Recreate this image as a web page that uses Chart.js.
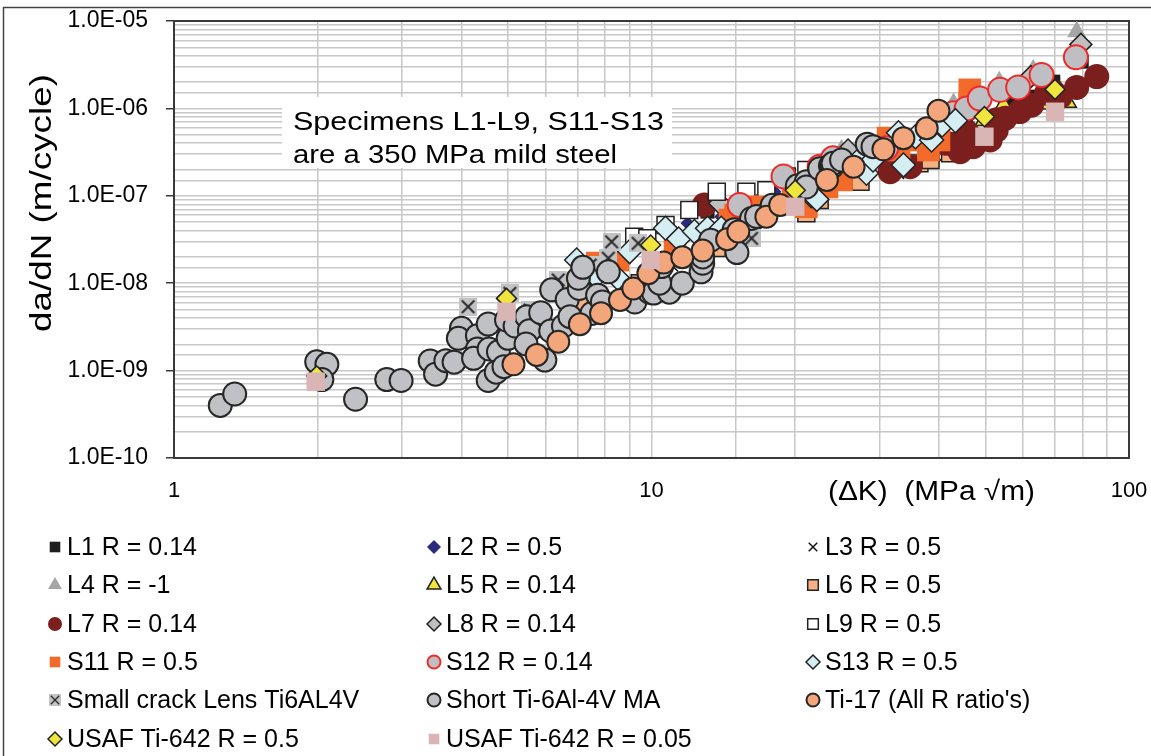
<!DOCTYPE html>
<html>
<head>
<meta charset="utf-8">
<script src="https://cdn.jsdelivr.net/npm/chart.js@4.4.1/dist/chart.umd.min.js"></script>
<style>
  body { margin: 0; background: #fff; }
  canvas { display: block; }
</style>
</head>
<body>
<canvas id="fcgChart" width="1151" height="756"></canvas>
<script>
// [deltaK (MPa sqrt m), da/dN (m/cycle)]
const L1 = [[13.1,6.6e-8],[55,1.3e-6],[56.2,1.25e-6],[59,1.3e-6],[63,1.36e-6],[69.4,2.02e-6],[79.6,3.43e-6]];
const L2 = [[11.9,4.84e-8],[14.0,5.76e-8],[16.6,8.7e-8],[18.1,1.11e-7],[32.5,1.81e-7]];
const L3 = [[11.1,1.55e-8],[33,1.77e-7],[40.9,2.8e-7]];
const L4 = [[25,3.34e-7],[42.9,1.14e-6],[53.5,2.02e-6],[63,2.75e-6],[77.7,7.55e-6]];
const L5 = [[45,4.35e-7],[49.9,7.36e-7],[54.6,1.06e-6],[65.6,1.14e-6],[74.1,1.19e-6]];
const L6 = [[7.26,5.9e-9],[9.45,1.0e-8],[13.7,2.52e-8],[21.1,6.3e-8],[22.5,8.97e-8],[26.4,1.52e-7],[27.4,1.45e-7],[36.4,2.35e-7],[38.4,2.57e-7],[42.2,3.06e-7]];
const L7 = [[12.9,7.85e-8],[31.6,1.89e-7],[34.8,2.15e-7],[41.5,3.98e-7],[43,3.9e-7],[44.3,3.2e-7],[47.2,3.65e-7],[45.7,5.4e-7],[51.2,4.35e-7],[52.7,5.6e-7],[52.8,7.4e-7],[55,7.7e-7],[59.1,9.2e-7],[62.5,1.09e-6],[67.2,1.49e-6],[69.4,1.55e-6],[71.7,1.36e-6],[77.7,1.74e-6],[85.6,2.31e-6]];
const L8 = [[13.9,8.2e-8],[25.8,3.34e-7],[46.8,9.6e-7],[62.3,2.31e-6],[79.3,5.4e-6]];
const L9 = [[9.2,3.4e-8],[9.8,3.26e-8],[10.7,4.63e-8],[12.0,6.87e-8],[13.7,1.11e-7],[15.8,1.11e-7],[17.4,1.16e-7],[19.2,1.66e-7],[21.1,1.97e-7]];
const S11 = [[6.7,1.0e-8],[7.7,1.7e-8],[8.5,1.84e-8],[11.2,3.0e-8],[14.6,5.28e-8],[15.0,6.0e-8],[16.3,7.5e-8],[19.8,9.8e-8],[21.1,7.5e-8],[23.3,1.26e-7],[25,1.52e-7],[31.3,4.58e-7],[33,3.34e-7],[35.7,4.35e-7],[38,3.34e-7],[40,4.35e-7],[46.4,1.63e-6],[46.4,1.15e-6]];
const S12 = [[15.3,7.85e-8],[18.9,1.66e-7],[22.5,2.15e-7],[24,2.69e-7],[31,3.5e-7],[42.9,8.8e-7],[45.7,1.0e-6],[48.7,1.3e-6],[53.7,1.63e-6],[58.6,1.74e-6],[65.6,2.41e-6],[77.4,3.85e-6]];
const S13 = [[6.97,1.84e-8],[7.65,1.19e-8],[8.5,1.14e-8],[9.0,2.3e-8],[10.7,4.25e-8],[11.4,3.2e-8],[12.3,3.9e-8],[13.1,4.25e-8],[14.0,4.25e-8],[16.9,5.76e-8],[21.6,1.0e-7],[22.2,9.1e-8],[25,2.57e-7],[27.4,2.69e-7],[28.2,1.81e-7],[29.1,2.57e-7],[32.9,5.27e-7],[33.7,2.25e-7],[35.7,4.74e-7],[38.6,4.35e-7],[40.6,6.45e-7],[43.3,7.24e-7]];
const lensTi = [[4.13,5.38e-9],[5.05,7.66e-9],[5.57,4.93e-9],[6.38,1.09e-8],[7.44,1.61e-8],[8.12,1.93e-8],[8.25,2.98e-8],[9.38,2.86e-8],[16.2,3.26e-8]];
const shortTi = [[1.25,4.0e-10],[1.34,5.4e-10],[1.99,1.26e-9],[2.09,1.18e-9],[2.04,7.9e-10],[2.40,4.7e-10],[2.79,7.9e-10],[2.99,7.7e-10],
  [3.44,1.29e-9],[3.53,9.1e-10],[3.71,1.3e-9],[3.86,1.25e-9],[4.0,3.05e-9],[3.94,2.34e-9],[4.32,2.51e-9],[4.55,3.41e-9],[4.32,1.77e-9],
  [4.24,1.38e-9],[4.57,1.77e-9],[4.78,1.64e-9],[4.55,7.7e-10],[4.73,9.6e-10],[4.91,1.11e-9],[5.01,2.34e-9],[4.97,3.79e-9],[5.18,3.24e-9],
  [5.48,4.14e-9],[5.55,2.86e-9],[5.46,2.02e-9],[5.86,4.6e-9],[5.98,1.32e-9],[6.18,8.4e-9],[6.15,2.84e-9],[6.54,3.24e-9],[6.66,6.5e-9],
  [6.75,4.14e-9],[7.06,8.7e-9],[7.03,1.14e-8],[7.18,1.52e-8],[7.5,4.5e-9],[7.71,7.3e-9],[7.89,6.1e-9],[8.12,1.35e-8],[9.23,6.1e-9],
  [9.9,7.9e-9],[10.1,7.7e-9],[10.9,7.9e-9],[11.6,1.0e-8],[10.4,1.0e-8],[10.5,1.55e-8],[12.7,1.35e-8],[12.8,1.69e-8],[12.8,2.0e-8],
  [13.3,3.1e-8],[15.1,2.24e-8],[14.9,4.1e-8],[16.2,5.5e-8],[16.6,5.8e-8],[17.9,7.8e-8],[20.2,1.3e-7],[21.1,1.45e-7],[21.1,1.26e-7],
  [22.5,2.04e-7],[23.7,2.2e-7],[23.9,2.16e-7],[24,2.35e-7],[25,2.57e-7],[28.3,3.9e-7],[29.1,3.65e-7]];
const ti17 = [[5.14,1.18e-9],[5.75,1.51e-9],[6.38,2.14e-9],[7.08,3.39e-9],[7.84,4.53e-9],[8.59,6.43e-9],[9.16,8.7e-9],[9.85,1.3e-8],
  [10.6,1.72e-8],[11.6,1.98e-8],[12.8,2.36e-8],[14.4,3.18e-8],[15.2,3.9e-8],[17.4,5.76e-8],[18.6,7.84e-8],[23.3,1.52e-7],[26.5,2.15e-7],
  [30.6,3.4e-7],[33.7,4.55e-7],[37.7,5.92e-7],[39.9,9.4e-7]];
const usaf05 = [[1.99,8.7e-10],[4.97,6.7e-9],[9.96,2.74e-8],[20,1.16e-7],[49.8,8.04e-7],[70,1.65e-6]];
const usaf005 = [[1.98,7.46e-10],[4.97,4.72e-9],[9.96,1.84e-8],[20,7.5e-8],[49.8,4.74e-7],[70,9.16e-7]];

const xTickLabels = ['1', '10', '100'];
const yTickLabels = ['1.0E-10', '1.0E-09', '1.0E-08', '1.0E-07', '1.0E-06', '1.0E-05'];

// gray square with an X, used for the Lens series
function crackIcon(size) {
    const c = document.createElement('canvas');
    c.width = size; c.height = size;
    const g = c.getContext('2d');
    g.fillStyle = '#c3c3c5';
    g.fillRect(0, 0, size, size);
    g.strokeStyle = '#2a2a2a';
    g.lineWidth = size > 14 ? 2 : 1.3;
    const m = size * 0.15;
    g.beginPath();
    g.moveTo(m, m); g.lineTo(size - m, size - m);
    g.moveTo(size - m, m); g.lineTo(m, size - m);
    g.stroke();
    return c;
}

const series = [
    { label: 'L1 R = 0.14', data: L1, style: 'rect', r: 10, fill: '#1e1e1e', line: '#1e1e1e', bw: 0, lr: 7.5 },
    { label: 'L2 R = 0.5', data: L2, style: 'rectRot', r: 7, fill: '#2b2b7c', line: '#2b2b7c', bw: 0, lr: 7 },
    { label: 'L3 R = 0.5', data: L3, style: 'crossRot', r: 7, fill: '#111', line: '#111', bw: 1.5, lr: 6 },
    { label: 'L4 R = -1', data: L4, style: 'triangle', r: 11, fill: '#a6a6a6', line: '#a6a6a6', bw: 0, lr: 8 },
    { label: 'L5 R = 0.14', data: L5, style: 'triangle', r: 11, fill: '#f1e43c', line: '#222', bw: 1.5, lr: 8 },
    { label: 'L6 R = 0.5', data: L6, style: 'rect', r: 12, fill: '#f4b183', line: '#222', bw: 1.5, lr: 7.5 },
    { label: 'L7 R = 0.14', data: L7, style: 'circle', r: 12.5, fill: '#7b1e1e', line: '#7b1e1e', bw: 0, lr: 7 },
    { label: 'L8 R = 0.14', data: L8, style: 'rectRot', r: 11, fill: '#bfbfbf', line: '#222', bw: 1.5, lr: 7 },
    { label: 'L9 R = 0.5', data: L9, style: 'rect', r: 12, fill: '#ffffff', line: '#222', bw: 1.5, lr: 7.5 },
    { label: 'S11 R = 0.5', data: S11, style: 'rect', r: 16, fill: '#f26b2a', line: '#f26b2a', bw: 0, lr: 7.5 },
    { label: 'S12 R = 0.14', data: S12, style: 'circle', r: 12, fill: '#bfbfc3', line: '#ee2a2a', bw: 2, lr: 6.5 },
    { label: 'S13 R = 0.5', data: S13, style: 'rectRot', r: 12, fill: '#d4eef4', line: '#222', bw: 1.5, lr: 7 },
    { label: 'Small crack Lens Ti6AL4V', data: lensTi, style: crackIcon(18), r: 9, fill: '#c3c3c5', line: '#222', bw: 0, icon: crackIcon(12) },
    { label: 'Short Ti-6Al-4V MA', data: shortTi, style: 'circle', r: 11.5, fill: '#c0c1c5', line: '#262626', bw: 2, lr: 6.5 },
    { label: "Ti-17 (All R ratio's)", data: ti17, style: 'circle', r: 11, fill: '#f3a67b', line: '#262626', bw: 2, lr: 6.5 },
    { label: 'USAF Ti-642 R = 0.5', data: usaf05, style: 'rectRot', r: 10, fill: '#efe53c', line: '#222', bw: 1.5, lr: 7 },
    { label: 'USAF Ti-642 R = 0.05', data: usaf005, style: 'rect', r: 13, fill: '#d9b5b5', line: '#d9b5b5', bw: 0, lr: 7.5 }
];

function isDecade(v) {
    const l = Math.log10(v);
    return Math.abs(l - Math.round(l)) < 1e-6;
}

function fitText(ctx, text, x, y, width) {
    const w = ctx.measureText(text).width;
    ctx.save();
    ctx.translate(x, y);
    ctx.scale(width / w, 1);
    ctx.fillText(text, 0, 0);
    ctx.restore();
}

const decor = {
    id: 'decor',
    beforeDatasetsDraw(chart) {
        const { ctx, chartArea: a } = chart;
        ctx.save();
        // note box
        ctx.fillStyle = '#fff';
        ctx.fillRect(282, 97, 390, 71);
        ctx.fillStyle = '#000';
        ctx.font = '26px "Liberation Sans", Arial, sans-serif';
        ctx.textBaseline = 'middle';
        fitText(ctx, 'Specimens L1-L9, S11-S13', 293, 123, 371);
        fitText(ctx, 'are a 350 MPa mild steel', 293, 156, 324);
        // plot frame
        ctx.strokeStyle = '#3a3a3a';
        ctx.lineWidth = 2;
        ctx.strokeRect(a.left, a.top, a.right - a.left, a.bottom - a.top);
        ctx.restore();
    },
    afterDraw(chart) {
        const { ctx } = chart;
        ctx.save();
        ctx.fillStyle = '#000';
        ctx.textBaseline = 'middle';
        // axis titles
        ctx.font = '30px "Liberation Sans", Arial, sans-serif';
        ctx.save();
        ctx.translate(43, 203);
        ctx.rotate(-Math.PI / 2);
        ctx.textAlign = 'left';
        fitText(ctx, 'da/dN (m/cycle)', -129, 0, 258);
        ctx.restore();
        ctx.font = '27px "Liberation Sans", Arial, sans-serif';
        fitText(ctx, '(\u0394K)  (MPa \u221Am)', 828, 493, 207);

        // legend, 3 columns
        const colX = [55, 434, 813];
        const rowY = [547, 585, 624, 662, 700, 739];
        ctx.font = '25px "Liberation Sans", Arial, sans-serif';
        series.forEach((s, i) => {
            const x = colX[i % 3], y = rowY[Math.floor(i / 3)];
            if (s.icon) {
                ctx.drawImage(s.icon, x - 6, y - 6);
            } else {
                ctx.fillStyle = s.fill;
                ctx.strokeStyle = s.line;
                ctx.lineWidth = s.bw;
                Chart.helpers.drawPoint(ctx, { pointStyle: s.style, radius: s.lr, rotation: 0, borderWidth: s.bw }, x, y);
            }
            ctx.fillStyle = '#000';
            ctx.textAlign = 'left';
            ctx.fillText(s.label, x + 12, y + 1);
        });

        // outer frame
        ctx.strokeStyle = '#444';
        ctx.lineWidth = 1.5;
        ctx.beginPath();
        ctx.moveTo(3.5, 760);
        ctx.lineTo(3.5, 7.5);
        ctx.lineTo(1160, 7.5);
        ctx.stroke();
        ctx.restore();
    }
};

const datasets = series.map((s, i) => ({
    label: s.label,
    data: s.data.map(p => ({ x: p[0], y: p[1] })),
    showLine: false,
    order: -i,
    pointStyle: s.style,
    pointRadius: s.r,
    pointHoverRadius: s.r,
    pointBackgroundColor: s.fill,
    pointBorderColor: s.line,
    pointBorderWidth: s.bw
}));

new Chart(document.getElementById('fcgChart'), {
    type: 'scatter',
    data: { datasets },
    options: {
        responsive: false,
        animation: false,
        layout: { padding: { top: 21, right: 22, left: 0, bottom: 0 } },
        plugins: { legend: { display: false }, tooltip: { enabled: false } },
        scales: {
            x: {
                type: 'logarithmic',
                min: 1,
                max: 100,
                afterFit: s => { s.height = 298; s.paddingLeft = 0; s.paddingRight = 0; },
                grid: { color: '#c8c8c8', lineWidth: 1.5, drawTicks: false },
                border: { color: '#3a3a3a', width: 2 },
                ticks: {
                    autoSkip: false,
                    maxRotation: 0,
                    padding: 20,
                    color: '#000',
                    font: { family: '"Liberation Sans", Arial, sans-serif', size: 22 },
                    callback: v => isDecade(v) ? xTickLabels[Math.round(Math.log10(v))] : ''
                }
            },
            y: {
                type: 'logarithmic',
                min: 1e-10,
                max: 1e-5,
                afterFit: s => { s.width = 174; s.paddingTop = 0; s.paddingBottom = 0; },
                grid: {
                    color: '#c8c8c8',
                    lineWidth: 1.5,
                    tickLength: 8,
                    tickColor: c => (c.tick && isDecade(c.tick.value)) ? '#3a3a3a' : 'rgba(0,0,0,0)'
                },
                border: { color: '#3a3a3a', width: 2 },
                ticks: {
                    autoSkip: false,
                    padding: 18,
                    color: '#000',
                    font: { family: '"Liberation Sans", Arial, sans-serif', size: 23 },
                    callback: v => isDecade(v) ? yTickLabels[Math.round(Math.log10(v)) + 10] : ''
                }
            }
        }
    },
    plugins: [decor]
});
</script>
</body>
</html>
